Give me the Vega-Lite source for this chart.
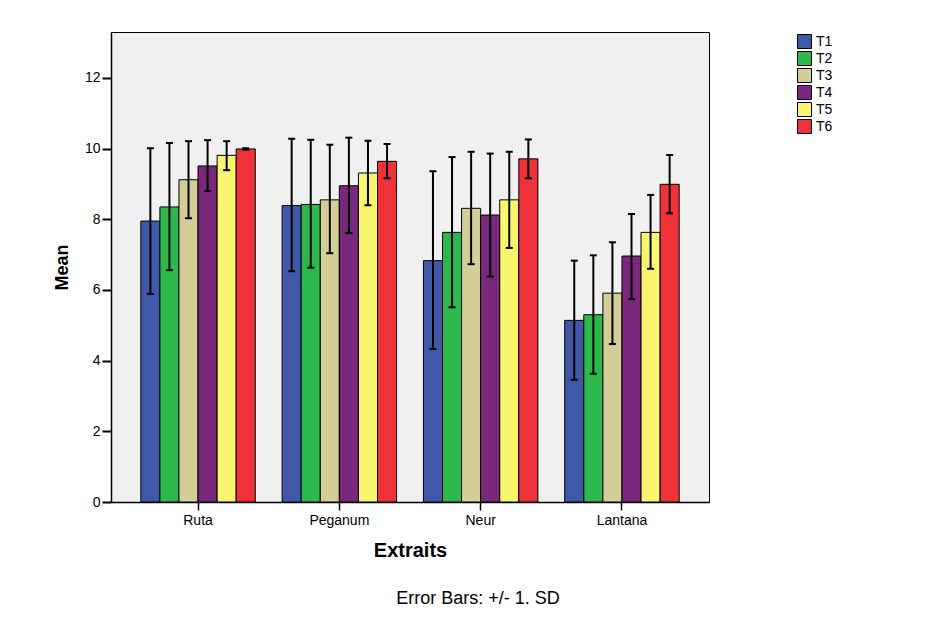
{
  "$schema": "https://vega.github.io/schema/vega-lite/v6.json",
  "width": 598,
  "height": 470,
  "autosize": {"type": "none"},
  "padding": {"left": 111, "top": 32, "right": 223, "bottom": 128},
  "background": "white",
  "config": {
    "font": "Liberation Sans",
    "view": {"fill": "#f0f0f0", "stroke": "black", "strokeWidth": 1},
    "axis": {"labelColor": "black", "titleColor": "black", "domainColor": "black", "tickColor": "black", "grid": false}
  },
  "title": {
    "text": "Error Bars: +/- 1. SD",
    "orient": "bottom",
    "anchor": "middle",
    "dx": 68,
    "offset": 30,
    "fontSize": 18,
    "fontWeight": "normal",
    "font": "Liberation Sans",
    "color": "black"
  },
  "data": {
    "values": [
      {"extrait": "Ruta", "group": "T1", "mean": 7.95, "lo": 5.89, "hi": 10.01},
      {"extrait": "Ruta", "group": "T2", "mean": 8.35, "lo": 6.56, "hi": 10.16},
      {"extrait": "Ruta", "group": "T3", "mean": 9.12, "lo": 8.03, "hi": 10.21},
      {"extrait": "Ruta", "group": "T4", "mean": 9.51, "lo": 8.8, "hi": 10.24},
      {"extrait": "Ruta", "group": "T5", "mean": 9.81, "lo": 9.39, "hi": 10.21},
      {"extrait": "Ruta", "group": "T6", "mean": 9.99, "lo": 9.97, "hi": 10.01},
      {"extrait": "Peganum", "group": "T1", "mean": 8.39, "lo": 6.53, "hi": 10.28},
      {"extrait": "Peganum", "group": "T2", "mean": 8.42, "lo": 6.63, "hi": 10.25},
      {"extrait": "Peganum", "group": "T3", "mean": 8.55, "lo": 7.04, "hi": 10.11},
      {"extrait": "Peganum", "group": "T4", "mean": 8.95, "lo": 7.61, "hi": 10.31},
      {"extrait": "Peganum", "group": "T5", "mean": 9.31, "lo": 8.4, "hi": 10.22},
      {"extrait": "Peganum", "group": "T6", "mean": 9.64, "lo": 9.16, "hi": 10.13},
      {"extrait": "Neur", "group": "T1", "mean": 6.83, "lo": 4.33, "hi": 9.36},
      {"extrait": "Neur", "group": "T2", "mean": 7.63, "lo": 5.51, "hi": 9.76},
      {"extrait": "Neur", "group": "T3", "mean": 8.31, "lo": 6.73, "hi": 9.91},
      {"extrait": "Neur", "group": "T4", "mean": 8.12, "lo": 6.38, "hi": 9.86},
      {"extrait": "Neur", "group": "T5", "mean": 8.55, "lo": 7.19, "hi": 9.91},
      {"extrait": "Neur", "group": "T6", "mean": 9.71, "lo": 9.16, "hi": 10.26},
      {"extrait": "Lantana", "group": "T1", "mean": 5.14, "lo": 3.46, "hi": 6.83},
      {"extrait": "Lantana", "group": "T2", "mean": 5.3, "lo": 3.63, "hi": 6.98},
      {"extrait": "Lantana", "group": "T3", "mean": 5.91, "lo": 4.47, "hi": 7.35},
      {"extrait": "Lantana", "group": "T4", "mean": 6.96, "lo": 5.74, "hi": 8.15},
      {"extrait": "Lantana", "group": "T5", "mean": 7.63, "lo": 6.6, "hi": 8.69},
      {"extrait": "Lantana", "group": "T6", "mean": 8.99, "lo": 8.17, "hi": 9.82}
    ]
  },
  "encoding": {
    "x": {
      "field": "extrait",
      "type": "nominal",
      "sort": ["Ruta", "Peganum", "Neur", "Lantana"],
      "scale": {"paddingInner": 0.19, "paddingOuter": 0.211},
      "axis": {
        "title": "Extraits",
        "titleFontSize": 20,
        "titleFontWeight": "bold",
        "titlePadding": 13,
        "labelAngle": 0,
        "labelFontSize": 14,
        "labelPadding": 3,
        "tickSize": 8,
        "tickWidth": 1.5,
        "domainWidth": 1.5
      }
    },
    "xOffset": {
      "field": "group",
      "type": "nominal",
      "scale": {"paddingInner": 0, "paddingOuter": 0}
    }
  },
  "layer": [
    {
      "mark": {"type": "bar", "stroke": "black", "strokeWidth": 1, "opacity": 1},
      "encoding": {
        "y": {
          "field": "mean",
          "type": "quantitative",
          "title": "Mean",
          "scale": {"domain": [0, 13.3], "nice": false, "zero": true},
          "axis": {
            "values": [0, 2, 4, 6, 8, 10, 12],
            "titleFontSize": 18,
            "titleFontWeight": "bold",
            "titlePadding": 13,
            "labelFontSize": 14,
            "labelPadding": 2,
            "tickSize": 9,
            "tickWidth": 2,
            "domainWidth": 1.5
          }
        },
        "color": {
          "field": "group",
          "type": "nominal",
          "scale": {
            "domain": ["T1", "T2", "T3", "T4", "T5", "T6"],
            "range": ["#3f59a8", "#2db84b", "#d3ce97", "#79287c", "#f8f56e", "#ef323a"]
          },
          "legend": {
            "title": null,
            "orient": "none",
            "legendX": 686,
            "legendY": 2,
            "symbolType": "square",
            "symbolSize": 196,
            "symbolStrokeColor": "black",
            "symbolStrokeWidth": 1,
            "symbolOpacity": 1,
            "labelFontSize": 14,
            "labelColor": "black",
            "rowPadding": -2.2,
            "labelOffset": 4
          }
        }
      }
    },
    {
      "mark": {"type": "rule", "strokeWidth": 2, "color": "black"},
      "encoding": {
        "y": {"field": "lo", "type": "quantitative", "title": "Mean"},
        "y2": {"field": "hi"}
      }
    },
    {
      "mark": {"type": "tick", "thickness": 2, "size": 7, "color": "black", "opacity": 1},
      "encoding": {
        "y": {"field": "lo", "type": "quantitative", "title": "Mean"}
      }
    },
    {
      "mark": {"type": "tick", "thickness": 2, "size": 7, "color": "black", "opacity": 1},
      "encoding": {
        "y": {"field": "hi", "type": "quantitative", "title": "Mean"}
      }
    }
  ]
}
